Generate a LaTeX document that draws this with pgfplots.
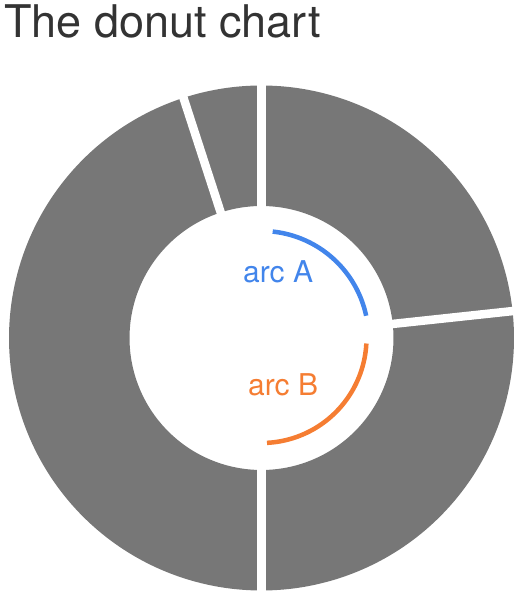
\documentclass[border=0pt]{standalone}
\usepackage{pgfplots}
\pgfplotsset{compat=1.18}
\usepackage{pgfplotstable}
\usepackage{fontspec}
\setmainfont{TeX Gyre Heros}
\definecolor{seg}{RGB}{119,119,119}
\definecolor{titlecol}{RGB}{51,51,51}
\definecolor{arcblue}{RGB}{66,133,235}
\definecolor{arcorange}{RGB}{245,125,50}

% donut segment shares (percent), clockwise from 12 o'clock
\pgfplotstableread{
value
23.3
26.7
45
5
}\donutdata

\begin{document}
\begin{tikzpicture}
\useasboundingbox (0,0) rectangle (527pt,600pt);
\pgfplotstablegetelem{0}{value}\of\donutdata \let\va\pgfplotsretval
\pgfplotstablegetelem{1}{value}\of\donutdata \let\vb\pgfplotsretval
\pgfplotstablegetelem{2}{value}\of\donutdata \let\vc\pgfplotsretval
\pgfplotstablegetelem{3}{value}\of\donutdata \let\vd\pgfplotsretval
\pgfmathsetmacro{\aA}{90}
\pgfmathsetmacro{\aB}{90-3.6*\va}
\pgfmathsetmacro{\aC}{\aB-3.6*\vb}
\pgfmathsetmacro{\aD}{\aC-3.6*\vc}
\pgfmathsetmacro{\aE}{\aD-3.6*\vd}
\begin{axis}[at={(0,0)}, anchor=south west, scale only axis,
  width=527pt, height=600pt, xmin=0, xmax=527, ymin=0, ymax=600,
  hide axis, clip=false]
% segments
\addplot[seg, line width=120.5pt, line cap=butt, line join=round, variable=\t, domain=\aB:\aA, samples=80] ({261.5+192.25*cos(t)},{262+192.25*sin(t)});
\addplot[seg, line width=120.5pt, line cap=butt, line join=round, variable=\t, domain=\aC:\aB, samples=80] ({261.5+192.25*cos(t)},{262+192.25*sin(t)});
\addplot[seg, line width=120.5pt, line cap=butt, line join=round, variable=\t, domain=\aD:\aC, samples=120] ({261.5+192.25*cos(t)},{262+192.25*sin(t)});
\addplot[seg, line width=120.5pt, line cap=butt, line join=round, variable=\t, domain=\aE:\aD, samples=30] ({261.5+192.25*cos(t)},{262+192.25*sin(t)});
% gaps
\addplot[white, line width=8.5pt, variable=\r, domain=120:266, samples=2] ({261.5+r*cos(\aA)},{262+r*sin(\aA)});
\addplot[white, line width=8.5pt, variable=\r, domain=120:266, samples=2] ({261.5+r*cos(\aB)},{262+r*sin(\aB)});
\addplot[white, line width=8.5pt, variable=\r, domain=120:266, samples=2] ({261.5+r*cos(\aC)},{262+r*sin(\aC)});
\addplot[white, line width=8.5pt, variable=\r, domain=120:266, samples=2] ({261.5+r*cos(\aD)},{262+r*sin(\aD)});
% inner arcs
\addplot[arcblue, line width=4.5pt, variable=\t, domain=12:84, samples=60] ({261.5+107*cos(t)},{262+107*sin(t)});
\addplot[arcorange, line width=4.5pt, variable=\t, domain=-87:-3, samples=60] ({261.5+105*cos(t)},{262+105*sin(t)});
\node[anchor=base west, inner sep=0pt, text=arcblue, font=\fontsize{30}{33}\selectfont] at (axis cs:243,317) {arc A};
\node[anchor=base west, inner sep=0pt, text=arcorange, font=\fontsize{30}{33}\selectfont] at (axis cs:248,204) {arc B};
\node[anchor=base west, inner sep=0pt, text=titlecol, font=\fontsize{45}{49}\selectfont] at (axis cs:4,562) {The donut chart};
\end{axis}
\end{tikzpicture}
\end{document}
